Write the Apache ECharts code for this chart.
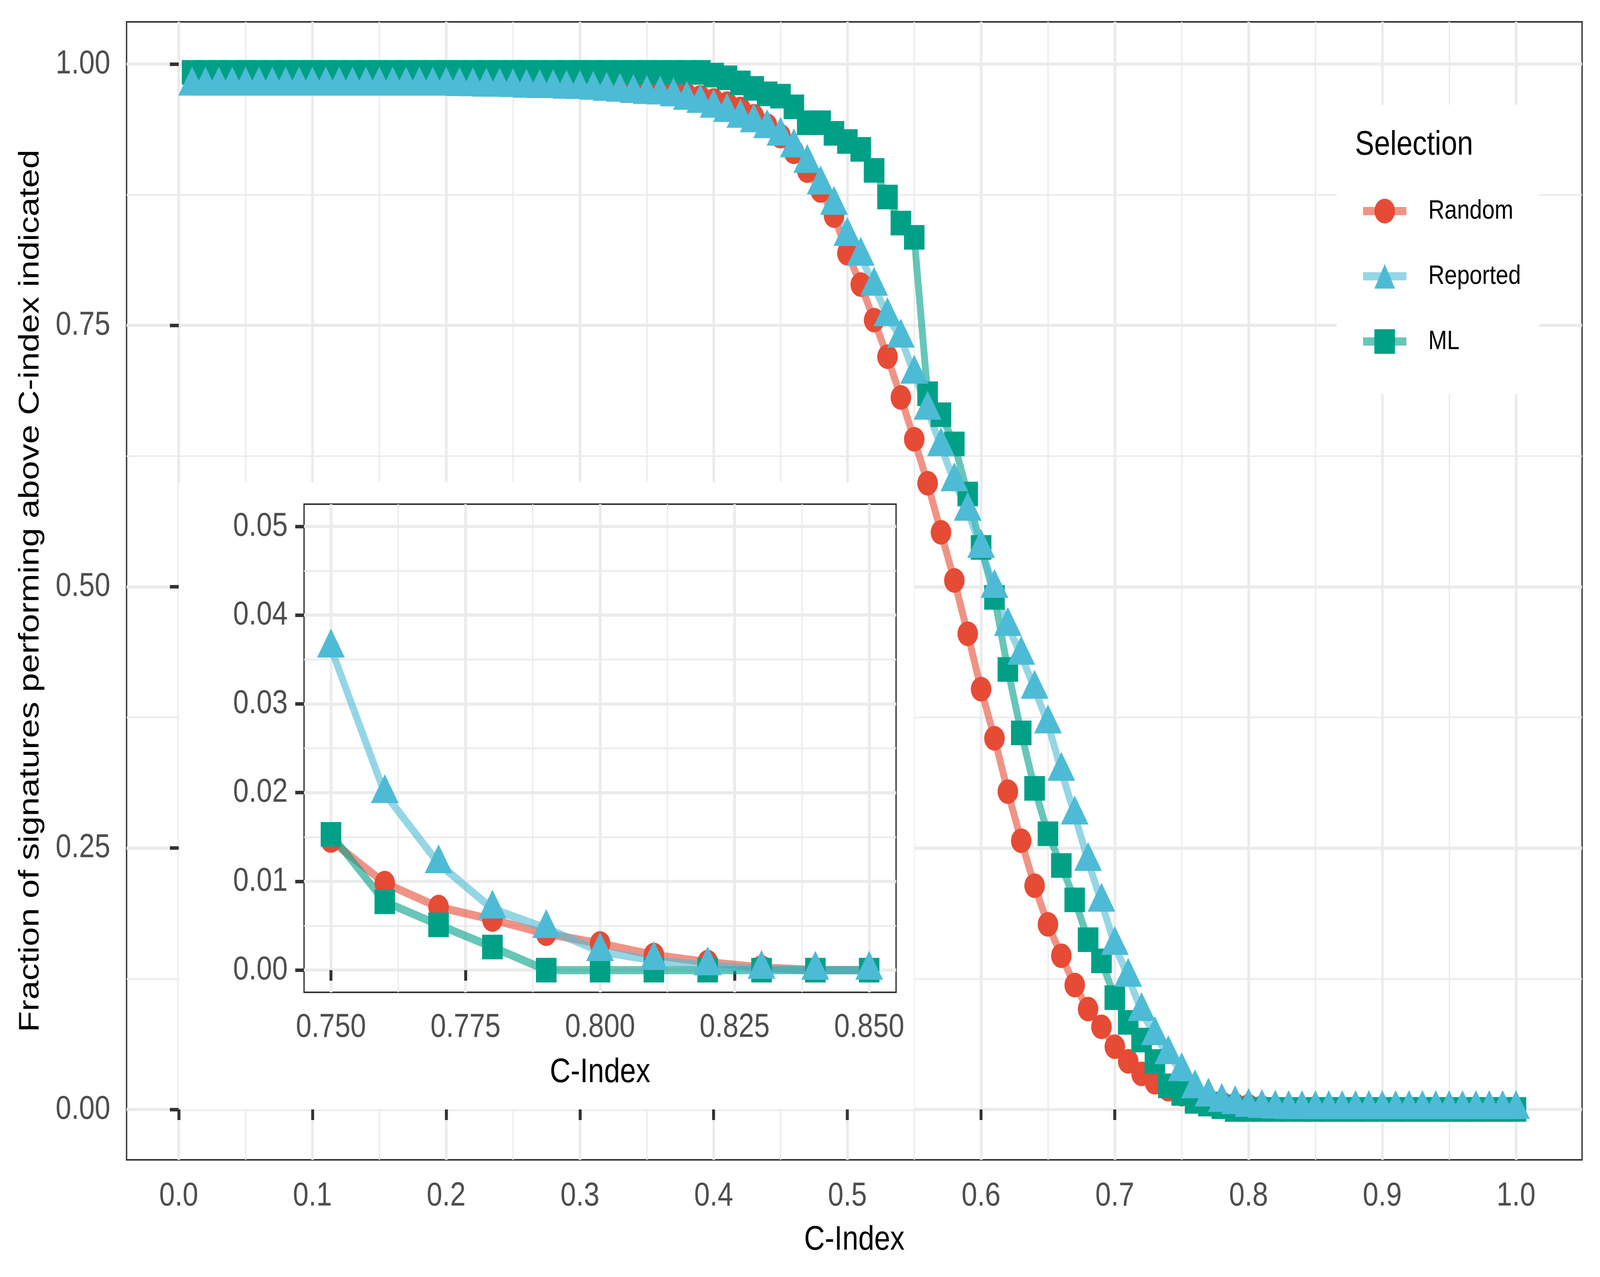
<!DOCTYPE html>
<html>
<head>
<meta charset="utf-8">
<title>Fraction of signatures above C-index</title>
<script src="https://cdn.jsdelivr.net/npm/echarts@6/dist/echarts.min.js"></script>
<style>
  html, body { margin: 0; padding: 0; background: #fff; overflow: hidden; }
  #chart { width: 4905px; height: 3270px; transform-origin: 0 0; }
</style>
</head>
<body>
<div id="chart"></div>
<script>
// data (C-index 0.01 .. 1.00)
const cIndex = [
  0.01, 0.02, 0.03, 0.04, 0.05, 0.06, 0.07, 0.08, 0.09, 0.10,
  0.11, 0.12, 0.13, 0.14, 0.15, 0.16, 0.17, 0.18, 0.19, 0.20,
  0.21, 0.22, 0.23, 0.24, 0.25, 0.26, 0.27, 0.28, 0.29, 0.30,
  0.31, 0.32, 0.33, 0.34, 0.35, 0.36, 0.37, 0.38, 0.39, 0.40,
  0.41, 0.42, 0.43, 0.44, 0.45, 0.46, 0.47, 0.48, 0.49, 0.50,
  0.51, 0.52, 0.53, 0.54, 0.55, 0.56, 0.57, 0.58, 0.59, 0.60,
  0.61, 0.62, 0.63, 0.64, 0.65, 0.66, 0.67, 0.68, 0.69, 0.70,
  0.71, 0.72, 0.73, 0.74, 0.75, 0.76, 0.77, 0.78, 0.79, 0.80,
  0.81, 0.82, 0.83, 0.84, 0.85, 0.86, 0.87, 0.88, 0.89, 0.90,
  0.91, 0.92, 0.93, 0.94, 0.95, 0.96, 0.97, 0.98, 0.99, 1.00
];

const randomSel = [
  0.986, 0.986, 0.986, 0.986, 0.986, 0.986, 0.986, 0.986, 0.986, 0.986,
  0.985, 0.985, 0.985, 0.985, 0.985, 0.985, 0.985, 0.985, 0.985, 0.985,
  0.984, 0.984, 0.983, 0.983, 0.982, 0.982, 0.981, 0.981, 0.980, 0.980,
  0.979, 0.978, 0.977, 0.976, 0.975, 0.974, 0.972, 0.970, 0.968, 0.965,
  0.962, 0.957, 0.950, 0.941, 0.931, 0.916, 0.898, 0.879, 0.855, 0.819,
  0.789, 0.755, 0.720, 0.681, 0.641, 0.599, 0.552, 0.506, 0.455, 0.402,
  0.355, 0.304, 0.257, 0.214, 0.177, 0.147, 0.119, 0.096, 0.079, 0.060,
  0.046, 0.034, 0.026, 0.0194, 0.0146, 0.0098, 0.0071, 0.0057, 0.0041, 0.0030,
  0.0017, 0.0009, 0.0003, 0, 0, 0, 0, 0, 0, 0,
  0, 0, 0, 0, 0, 0, 0, 0, 0, 0
];

const reportedSel = [
  0.979, 0.979, 0.979, 0.979, 0.979, 0.979, 0.979, 0.979, 0.979, 0.979,
  0.979, 0.979, 0.979, 0.979, 0.979, 0.979, 0.979, 0.979, 0.979, 0.979,
  0.9785, 0.9783, 0.978, 0.978, 0.9776, 0.9769, 0.9767, 0.9767, 0.976, 0.9757,
  0.975, 0.974, 0.9731, 0.9719, 0.971, 0.9705, 0.9687, 0.9654, 0.9625, 0.9578,
  0.9538, 0.9482, 0.9439, 0.9383, 0.9311, 0.920, 0.905, 0.8844, 0.865, 0.8352,
  0.8162, 0.7876, 0.7584, 0.738, 0.7034, 0.669, 0.634, 0.6005, 0.5723, 0.5367,
  0.4985, 0.4621, 0.4346, 0.4021, 0.3689, 0.3235, 0.2818, 0.2373, 0.1984, 0.157,
  0.1266, 0.0938, 0.0707, 0.0525, 0.0363, 0.0199, 0.0120, 0.0069, 0.0047, 0.0021,
  0.0011, 0.0005, 0.0001, 0, 0, 0, 0, 0, 0, 0,
  0, 0, 0, 0, 0, 0, 0, 0, 0, 0
];

const mlSel = [
  0.992, 0.992, 0.992, 0.992, 0.992, 0.992, 0.992, 0.992, 0.992, 0.992,
  0.992, 0.992, 0.992, 0.992, 0.992, 0.992, 0.992, 0.992, 0.992, 0.992,
  0.992, 0.992, 0.992, 0.992, 0.992, 0.992, 0.992, 0.992, 0.992, 0.992,
  0.992, 0.992, 0.992, 0.992, 0.992, 0.992, 0.992, 0.992, 0.992, 0.9894,
  0.9868, 0.9819, 0.9767, 0.9715, 0.9692, 0.9591, 0.9438, 0.9438, 0.9337, 0.9259,
  0.9183, 0.8983, 0.8728, 0.8478, 0.8342, 0.6846, 0.6645, 0.6366, 0.5887, 0.5376,
  0.4898, 0.4209, 0.3602, 0.3071, 0.2637, 0.2334, 0.2005, 0.1624, 0.1421, 0.1069,
  0.0833, 0.0664, 0.0459, 0.0226, 0.0153, 0.0077, 0.0051, 0.0026, 0, 0,
  0, 0, 0, 0, 0, 0, 0, 0, 0, 0,
  0, 0, 0, 0, 0, 0, 0, 0, 0, 0
];

// tick
const xTicks = [0, 0.1, 0.2, 0.3, 0.4, 0.5, 0.6, 0.7, 0.8, 0.9, 1.0];
const xMinor = [0.05, 0.15, 0.25, 0.35, 0.45, 0.55, 0.65, 0.75, 0.85, 0.95];
const yTicks = [0, 0.25, 0.5, 0.75, 1.0];
const yMinor = [0.125, 0.375, 0.625, 0.875];

const insetXTicks = [0.75, 0.775, 0.8, 0.825, 0.85];
const insetXMinor = [0.7625, 0.7875, 0.8125, 0.8375];
const insetYTicks = [0, 0.01, 0.02, 0.03, 0.04, 0.05];
const insetYMinor = [0.005, 0.015, 0.025, 0.035, 0.045];

// rentang inset (data) dan kotak putih inset di koordinat grafik utama
const insetRange = [0.75, 0.85];
const insetBox = [[0, 0], [0.55, 0.6]];

const FONT = 'Liberation Sans';

// jendela browser dibatasi 4096 px, jadi gambar 4905x3270 diskalakan agar pas
const el = document.getElementById('chart');
const sx = Math.min(1, window.innerWidth / 4905);
const sy = Math.min(1, window.innerHeight / 3270);
el.style.transform = 'scale(' + sx + ',' + sy + ')';

const groups = [
  { name: 'Random', vals: randomSel, color: '#E64B35', line: 'rgba(230,75,53,0.6)', symbol: 'circle', size: 63, offset: [0, 0] },
  { name: 'ML', vals: mlSel, color: '#00A087', line: 'rgba(0,160,135,0.6)', symbol: 'rect', size: 63, offset: [0, 0] },
  { name: 'Reported', vals: reportedSel, color: '#4DBBD5', line: 'rgba(77,187,213,0.6)', symbol: 'triangle', size: [85, 74], offset: [0, '-16.7%'] }
];

function pairs(vals, range) {
  const out = [];
  cIndex.forEach((c, i) => {
    if (!range || (c >= range[0] - 1e-9 && c <= range[1] + 1e-9)) out.push([c, vals[i]]);
  });
  return out;
}

const tickStyle = ticks => ({ show: true, length: 27, lineStyle: { color: '#333333', width: 9 }, customValues: ticks });
const labelStyle = (ticks, digits, margin) => ({
  color: '#4D4D4D', fontSize: 86, fontFamily: FONT, margin: margin,
  customValues: ticks, formatter: v => v.toFixed(digits)
});

function valueAxis(opt) {
  return Object.assign({
    type: 'value',
    axisLine: { show: false },
    splitLine: { show: true, lineStyle: { color: '#EBEBEB', width: 8 } },
    nameTextStyle: { color: '#000', fontSize: 88, fontFamily: FONT }
  }, opt);
}

function minorAxis(opt, vals) {
  return Object.assign({
    type: 'value',
    axisLine: { show: false },
    axisTick: { show: false, customValues: vals },
    axisLabel: { show: false },
    splitLine: { show: true, lineStyle: { color: '#EBEBEB', width: 4 } }
  }, opt);
}

const mainX = { min: -0.039, max: 1.0494 };
const mainY = { min: -0.0482, max: 1.0403 };
const insX = { min: 0.745, max: 0.855 };
const insY = { min: -0.0025, max: 0.0525 };

const xAxis = [
  valueAxis(Object.assign({
    gridIndex: 0, position: 'bottom', name: 'C-Index', nameLocation: 'middle', nameGap: 162,
    axisTick: tickStyle(xTicks), axisLabel: labelStyle(xTicks, 1, 50)
  }, mainX)),
  minorAxis(Object.assign({ gridIndex: 0, position: 'bottom' }, mainX), xMinor),
  valueAxis(Object.assign({
    gridIndex: 1, position: 'bottom', name: 'C-Index', nameLocation: 'middle', nameGap: 162, z: 5,
    axisTick: tickStyle(insetXTicks), axisLabel: labelStyle(insetXTicks, 3, 47)
  }, insX)),
  minorAxis(Object.assign({ gridIndex: 1, position: 'bottom', z: 5 }, insX), insetXMinor)
];

const yAxis = [
  valueAxis(Object.assign({
    gridIndex: 0, position: 'left', name: 'Fraction of signatures performing above C-index indicated',
    nameLocation: 'middle', nameGap: 250,
    axisTick: tickStyle(yTicks), axisLabel: labelStyle(yTicks, 2, 50)
  }, mainY)),
  minorAxis(Object.assign({ gridIndex: 0, position: 'left' }, mainY), yMinor),
  valueAxis(Object.assign({
    gridIndex: 1, position: 'left', z: 5,
    axisTick: tickStyle(insetYTicks), axisLabel: labelStyle(insetYTicks, 2, 50)
  }, insY)),
  minorAxis(Object.assign({ gridIndex: 1, position: 'left', z: 5 }, insY), insetYMinor)
];

const series = [];
// garis dulu (di bawah semua titik)
groups.forEach((g, k) => {
  const sr = {
    type: 'line', name: g.name, xAxisIndex: 0, yAxisIndex: 0,
    data: pairs(g.vals), symbol: g.symbol, showSymbol: false, z: 2,
    itemStyle: { color: g.color },
    lineStyle: { color: g.line, width: 21 }
  };
  if (k === 0) {
    sr.markArea = {
      silent: true, z: 1,
      itemStyle: { color: '#ffffff' },
      data: [[{ coord: insetBox[0] }, { coord: insetBox[1] }]]
    };
  }
  series.push(sr);
});
groups.forEach(g => {
  series.push({
    type: 'scatter', name: g.name, xAxisIndex: 0, yAxisIndex: 0,
    data: pairs(g.vals), symbol: g.symbol, symbolSize: g.size, symbolOffset: g.offset, z: 3,
    itemStyle: { color: g.color, opacity: 1 }
  });
});
// inset
groups.forEach(g => {
  series.push({
    type: 'line', name: g.name, xAxisIndex: 2, yAxisIndex: 2,
    data: pairs(g.vals, insetRange), symbol: g.symbol, showSymbol: false, z: 6,
    itemStyle: { color: g.color },
    lineStyle: { color: g.line, width: 21 }
  });
});
groups.forEach(g => {
  series.push({
    type: 'scatter', name: g.name, xAxisIndex: 2, yAxisIndex: 2,
    data: pairs(g.vals, insetRange), symbol: g.symbol, symbolSize: g.size, symbolOffset: g.offset, z: 7,
    itemStyle: { color: g.color, opacity: 1 }
  });
});

const chart = echarts.init(el, null, { renderer: 'canvas', width: 4905, height: 3270 });
chart.setOption({
  animation: false,
  backgroundColor: '#ffffff',
  textStyle: { fontFamily: FONT },
  title: {
    text: 'Selection', left: 4154, top: 328, padding: 0, z: 8,
    textStyle: { fontSize: 88, fontWeight: 'normal', color: '#000', fontFamily: FONT }
  },
  legend: {
    data: ['Random', 'Reported', 'ML'],
    orient: 'vertical', left: 4098, top: 268,
    padding: [238, 56, 100, 70],
    backgroundColor: '#ffffff',
    itemWidth: 133, itemHeight: 79, itemGap: 98,
    selectedMode: false,
    lineStyle: { width: 21 },
    textStyle: { fontSize: 69, color: '#000', fontFamily: FONT, padding: [0, 0, 0, 62] }
  },
  grid: [
    { left: 388, right: 55, top: 56, bottom: 300, show: true, borderColor: '#333333', borderWidth: 4, backgroundColor: '#fff' },
    { left: 932, right: 2158, top: 1291, bottom: 729, show: true, borderColor: '#333333', borderWidth: 4, backgroundColor: '#fff', z: 4 }
  ],
  xAxis: xAxis,
  yAxis: yAxis,
  series: series
});
</script>
</body>
</html>
